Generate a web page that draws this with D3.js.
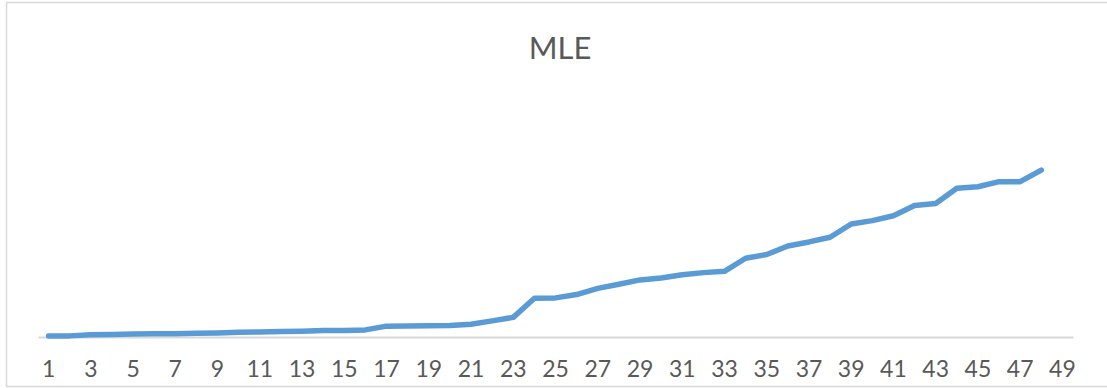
<!DOCTYPE html>
<html>
<head>
<meta charset="utf-8">
<script src="https://cdn.jsdelivr.net/npm/d3@7"></script>
<style>
  body { margin: 0; background: #fff; }
  svg { display: block; }
</style>
</head>
<body>
<div id="chart"></div>
<script>
// chart values
var categories = d3.range(1, 50)
var mleValues = [
    0.005, 0.006, 0.012, 0.014, 0.016, 0.018, 0.018, 0.020, 0.022, 0.025,
    0.027, 0.029, 0.031, 0.035, 0.035, 0.038, 0.058, 0.059, 0.060, 0.061,
    0.068, 0.086, 0.105, 0.207, 0.209, 0.227, 0.260, 0.282, 0.305, 0.315,
    0.333, 0.344, 0.351, 0.421, 0.441, 0.486, 0.508, 0.533, 0.604, 0.622,
    0.648, 0.703, 0.713, 0.795, 0.803, 0.830, 0.830, 0.892
]
var tickLabels = categories.filter(d => d % 2 === 1)
var chartTitle = 'MLE'

var width = 1107, height = 388
var margin = { top: 75, right: 34, bottom: 51, left: 38 }

var svg = d3.select('#chart')
    .append('svg')
    .attr('width', width)
    .attr('height', height)

// outer chart border
svg.append('rect')
    .attr('x', 6.5)
    .attr('y', 2.5)
    .attr('width', width + 10)
    .attr('height', height - 4)
    .attr('fill', '#fff')
    .attr('stroke', '#d9d9d9')
    .attr('stroke-width', 1.5)

var x = d3.scaleBand()
    .domain(categories)
    .range([margin.left, width - margin.right])
    .padding(0)

var y = d3.scaleLinear()
    .domain([0, 1.4])
    .range([height - margin.bottom, margin.top])

svg.append('text')
    .attr('x', 560)
    .attr('y', 59)
    .attr('text-anchor', 'middle')
    .attr('font-family', 'Lato, "Open Sans", sans-serif')
    .attr('font-size', 31)
    .attr('fill', '#595959')
    .text(chartTitle)

var xAxis = d3.axisBottom(x)
    .tickValues(tickLabels)
    .tickSize(0)
    .tickSizeOuter(0)
    .tickPadding(24)

var gx = svg.append('g')
    .attr('transform', 'translate(0,' + (height - margin.bottom) + ')')
    .call(xAxis)

gx.select('.domain')
    .attr('stroke', '#d9d9d9')
    .attr('stroke-width', 2)
gx.selectAll('text')
    .attr('font-family', 'Lato, "Open Sans", sans-serif')
    .attr('font-size', 23)
    .attr('fill', '#595959')

var line = d3.line()
    .x((d, i) => x(categories[i]) + x.bandwidth() / 2)
    .y(d => y(d))

svg.append('path')
    .datum(mleValues)
    .attr('d', line)
    .attr('fill', 'none')
    .attr('stroke', '#5b9bd5')
    .attr('stroke-width', 5.5)
    .attr('stroke-linejoin', 'round')
    .attr('stroke-linecap', 'round')
</script>
</body>
</html>
